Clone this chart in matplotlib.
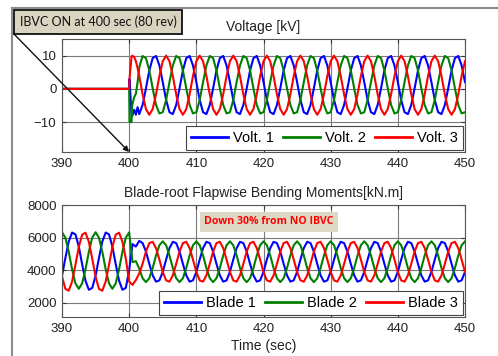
import numpy as np
import matplotlib
matplotlib.use("Agg")
import matplotlib.pyplot as plt
from matplotlib.lines import Line2D

# ---------------- data ----------------
x_ticks = [390, 400, 410, 420, 430, 440, 450]
volt_yticks = [-10, 0, 10]
moment_yticks = [2000, 4000, 6000, 8000]
volt_labels = ["Volt. 1", "Volt. 2", "Volt. 3"]
blade_labels = ["Blade 1", "Blade 2", "Blade 3"]

# voltage: head samples (zero before IBVC + switch-on transient), then 0.5 s samples 402..450
volt_head_time = [390.0, 400.0, 400.05, 400.35, 400.45, 400.75, 401.0, 401.25, 401.5]
volt1_head = [0, 0, 3.0, -7.5, -8.2, -6.3, -7.8, -5.5, -7.6]
volt2_head = [0, 0, -10.0, -10.0, -5.0, -2.5, -1.5, 2.0, 6.5]
volt3_head = [0, 0, 3.0, 9.6, 10.0, 9.6, 8.3, 6.3, 3.9]

volt1_tail = [
    -4.85, 0.17, 5.55, 9.23, 9.9, 7.05, 2.03, -3.35, -7.03, -7.6,
    -4.85, 0.17, 5.55, 9.23, 9.9, 7.05, 2.03, -3.35, -7.03, -7.6,
    -4.85, 0.17, 5.55, 9.23, 9.9, 7.05, 2.03, -3.35, -7.03, -7.6,
    -4.85, 0.17, 5.55, 9.23, 9.9, 7.05, 2.03, -3.35, -7.03, -7.6,
    -4.85, 0.17, 5.55, 9.23, 9.9, 7.05, 2.03, -3.35, -7.03, -7.6,
    -4.85, 0.17, 5.55, 9.23, 9.9, 7.05, 2.03, -3.35, -7.03, -7.6,
    -4.85, 0.17, 5.55, 9.23, 9.9, 7.05, 2.03, -3.35, -7.03, -7.6,
    -4.85, 0.17, 5.55, 9.23, 9.9, 7.05, 2.03, -3.35, -7.03, -7.6,
    -4.85, 0.17, 5.55, 9.23, 9.9, 7.05, 2.03, -3.35, -7.03, -7.6,
    -4.85, 0.17, 5.55, 9.23, 9.9, 7.05, 2.03]
volt2_tail = [
    9.9, 9.23, 5.55, 0.17, -4.85, -7.4, -7.03, -3.35, 2.03, 7.05,
    9.9, 9.23, 5.55, 0.17, -4.85, -7.4, -7.03, -3.35, 2.03, 7.05,
    9.9, 9.23, 5.55, 0.17, -4.85, -7.4, -7.03, -3.35, 2.03, 7.05,
    9.9, 9.23, 5.55, 0.17, -4.85, -7.4, -7.03, -3.35, 2.03, 7.05,
    9.9, 9.23, 5.55, 0.17, -4.85, -7.4, -7.03, -3.35, 2.03, 7.05,
    9.9, 9.23, 5.55, 0.17, -4.85, -7.4, -7.03, -3.35, 2.03, 7.05,
    9.9, 9.23, 5.55, 0.17, -4.85, -7.4, -7.03, -3.35, 2.03, 7.05,
    9.9, 9.23, 5.55, 0.17, -4.85, -7.4, -7.03, -3.35, 2.03, 7.05,
    9.9, 9.23, 5.55, 0.17, -4.85, -7.4, -7.03, -3.35, 2.03, 7.05,
    9.9, 9.23, 5.55, 0.17, -4.85, -7.4, -7.03]
volt3_tail = [
    -1.65, -6.1, -7.8, -6.1, -1.65, 3.85, 8.3, 10.0, 8.3, 3.85,
    -1.65, -6.1, -7.8, -6.1, -1.65, 3.85, 8.3, 10.0, 8.3, 3.85,
    -1.65, -6.1, -7.8, -6.1, -1.65, 3.85, 8.3, 10.0, 8.3, 3.85,
    -1.65, -6.1, -7.8, -6.1, -1.65, 3.85, 8.3, 10.0, 8.3, 3.85,
    -1.65, -6.1, -7.8, -6.1, -1.65, 3.85, 8.3, 10.0, 8.3, 3.85,
    -1.65, -6.1, -7.8, -6.1, -1.65, 3.85, 8.3, 10.0, 8.3, 3.85,
    -1.65, -6.1, -7.8, -6.1, -1.65, 3.85, 8.3, 10.0, 8.3, 3.85,
    -1.65, -6.1, -7.8, -6.1, -1.65, 3.85, 8.3, 10.0, 8.3, 3.85,
    -1.65, -6.1, -7.8, -6.1, -1.65, 3.85, 8.3, 10.0, 8.3, 3.85,
    -1.65, -6.1, -7.8, -6.1, -1.65, 3.85, 8.3]

# blade-root flapwise moments, 0.5 s samples 390..450
blade1 = [
    3657, 4743, 5756, 6311, 6196, 5452, 4367, 3354, 2799, 2914,
    3657, 4743, 5756, 6311, 6196, 5452, 4367, 3354, 2799, 2914,
    4000, 5600, 5450, 5800, 5663, 5145, 4389, 3684, 3298, 3378,
    3895, 4651, 5356, 5743, 5663, 5145, 4389, 3684, 3298, 3378,
    3895, 4651, 5356, 5743, 5663, 5145, 4389, 3684, 3298, 3378,
    3895, 4651, 5356, 5743, 5663, 5145, 4389, 3684, 3298, 3378,
    3895, 4651, 5356, 5743, 5663, 5145, 4389, 3684, 3298, 3378,
    3895, 4651, 5356, 5743, 5663, 5145, 4389, 3684, 3298, 3378,
    3895, 4651, 5356, 5743, 5663, 5145, 4389, 3684, 3298, 3378,
    3895, 4651, 5356, 5743, 5663, 5145, 4389, 3684, 3298, 3378,
    3895, 4651, 5356, 5743, 5663, 5145, 4389, 3684, 3298, 3378,
    3895, 4651, 5356, 5743, 5663, 5145, 4389, 3684, 3298, 3378,
    3895]
blade2 = [
    6330, 5998, 5131, 4059, 3191, 2860, 3191, 4059, 5131, 5998,
    6330, 5998, 5131, 4059, 3191, 2860, 3191, 4059, 5131, 5998,
    6320, 4500, 4550, 4100, 3509, 3270, 3509, 4134, 4906, 5531,
    5770, 5531, 4906, 4134, 3509, 3270, 3509, 4134, 4906, 5531,
    5770, 5531, 4906, 4134, 3509, 3270, 3509, 4134, 4906, 5531,
    5770, 5531, 4906, 4134, 3509, 3270, 3509, 4134, 4906, 5531,
    5770, 5531, 4906, 4134, 3509, 3270, 3509, 4134, 4906, 5531,
    5770, 5531, 4906, 4134, 3509, 3270, 3509, 4134, 4906, 5531,
    5770, 5531, 4906, 4134, 3509, 3270, 3509, 4134, 4906, 5531,
    5770, 5531, 4906, 4134, 3509, 3270, 3509, 4134, 4906, 5531,
    5770, 5531, 4906, 4134, 3509, 3270, 3509, 4134, 4906, 5531,
    5770, 5531, 4906, 4134, 3509, 3270, 3509, 4134, 4906, 5531,
    5770]
blade3 = [
    3610, 2857, 2740, 3302, 4329, 5430, 6183, 6300, 5738, 4711,
    3610, 2857, 2740, 3302, 4329, 5430, 6183, 6300, 5738, 4711,
    3300, 3100, 3400, 3800, 4389, 5145, 5663, 5743, 5356, 4651,
    3895, 3378, 3298, 3684, 4389, 5145, 5663, 5743, 5356, 4651,
    3895, 3378, 3298, 3684, 4389, 5145, 5663, 5743, 5356, 4651,
    3895, 3378, 3298, 3684, 4389, 5145, 5663, 5743, 5356, 4651,
    3895, 3378, 3298, 3684, 4389, 5145, 5663, 5743, 5356, 4651,
    3895, 3378, 3298, 3684, 4389, 5145, 5663, 5743, 5356, 4651,
    3895, 3378, 3298, 3684, 4389, 5145, 5663, 5743, 5356, 4651,
    3895, 3378, 3298, 3684, 4389, 5145, 5663, 5743, 5356, 4651,
    3895, 3378, 3298, 3684, 4389, 5145, 5663, 5743, 5356, 4651,
    3895, 3378, 3298, 3684, 4389, 5145, 5663, 5743, 5356, 4651,
    3895]

# ---------------- figure ----------------
plt.rcParams['font.family'] = ['Liberation Sans', 'DejaVu Sans']
W, H = 498, 356
fig = plt.figure(figsize=(W / 100, H / 100), dpi=100)
fig.patch.set_facecolor('white')

volt_time = np.concatenate([volt_head_time, np.arange(402.0, 450.01, 0.5)])
blade_time = np.arange(390.0, 450.01, 0.5)

colors = ['#0000ff', '#008000', '#ff0000']

ax1 = fig.add_axes([62 / W, 1 - 152 / H, (465 - 62) / W, (152 - 39) / H])
ax2 = fig.add_axes([62 / W, 1 - 317 / H, (465 - 62) / W, (317 - 205) / H])

vs = [volt1_head + volt1_tail, volt2_head + volt2_tail, volt3_head + volt3_tail]
for v, c, lab in zip(vs, colors, volt_labels):
    ax1.plot(volt_time, v, color=c, lw=1.5, label=lab)
bs = [blade1, blade2, blade3]
for b, c, lab in zip(bs, colors, blade_labels):
    ax2.plot(blade_time, b, color=c, lw=1.5, label=lab)

ax1.set_ylim(-19, 15)
ax1.set_yticks(volt_yticks)
ax2.set_ylim(1130, 8000)
ax2.set_yticks(moment_yticks)

for ax in (ax1, ax2):
    ax.set_xlim(390, 450)
    ax.set_xticks(x_ticks)
    ax.grid(True, color='#7a7a7a', lw=0.8, ls='-')
    ax.set_axisbelow(True)
    for s in ax.spines.values():
        s.set_color('#555555')
        s.set_linewidth(0.8)
    ax.tick_params(direction='in', length=3, width=0.8, color='#333333',
                   top=True, right=True, labelsize=9.5, labelcolor='#222222', pad=4)
    leg = ax.legend(loc='lower right', bbox_to_anchor=(1, 0), ncol=3, fontsize=10.5,
                    handlelength=2.55, handletextpad=0.35, columnspacing=0.6,
                    borderpad=0.35, borderaxespad=0.15, fancybox=False,
                    edgecolor='#444444', framealpha=1)
    leg.get_frame().set_linewidth(0.8)
    for ln in leg.get_lines():
        ln.set_linewidth(2.0)

ax1.set_title('Voltage [kV]', fontsize=10, color='#222222', pad=6)
ax2.set_title('Blade-root Flapwise Bending Moments[kN.m]', fontsize=10, color='#222222', pad=6)
ax2.set_xlabel('Time (sec)', fontsize=10, color='#222222', labelpad=3)

# outer frame (top and left lines)
fig.add_artist(Line2D([12 / W, 12 / W], [0, 1 - 8 / H], color='#8c8c8c', lw=1.5))
fig.add_artist(Line2D([12 / W, 1], [1 - 8 / H, 1 - 8 / H], color='#8c8c8c', lw=1.5))

# annotation box
fig.text(98 / W, 1 - 22 / H, 'IBVC ON at 400 sec (80 rev)', ha='center', va='center',
         fontsize=9.0, family=['Lato', 'DejaVu Sans'], color='#111111',
         bbox=dict(boxstyle='square,pad=0.45', facecolor='#d9d4c0', edgecolor='#111111', lw=1.3))
ax1.annotate('', xy=(400, -19), xycoords='data', xytext=(13 / W, 1 - 33 / H),
             textcoords='figure fraction', annotation_clip=False,
             arrowprops=dict(arrowstyle='-|>', color='#111111', lw=1.0, mutation_scale=8,
                             shrinkA=0, shrinkB=0))

# "Down 30%" note
note = fig.text(269 / W, 1 - 222 / H, 'Down 30% from NO IBVC', ha='center', va='center',
                fontsize=7.6, fontweight='bold', family=['Open Sans', 'DejaVu Sans'],
                color='#ff0000',
                bbox=dict(boxstyle='square,pad=0.45', facecolor='#ddd8c4', edgecolor='none'))
fig.canvas.draw()
bb = note.get_window_extent(fig.canvas.get_renderer())
uy = bb.y0 + 1.5
fig.add_artist(Line2D([bb.x0 / W, bb.x1 / W], [uy / H, uy / H], color='#ff0000', lw=0.8))

fig.savefig('out.png', dpi=100)
